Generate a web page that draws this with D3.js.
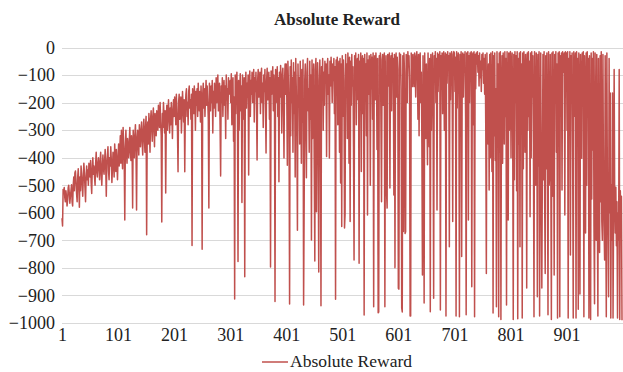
<!DOCTYPE html>
<html>
<head>
<meta charset="utf-8">
<script src="https://cdn.jsdelivr.net/npm/d3@7"></script>
<style>
  body { margin: 0; background: #fff; }
  svg { display: block; font-family: "Liberation Serif", "Times New Roman", serif; }
</style>
</head>
<body>
<div class="chart"></div>
<script>
var title = "Absolute Reward";
var seriesName = "Absolute Reward";

// episode rewards in blocks of 100 episodes
var ep1 = [-620,-648,-515,-530,-508,-545,-560,-520,-540,-575,-555,-510,-500,-530,-565,-540,-520,-498,-560,-575,
  -500,-470,-520,-455,-448,-490,-530,-560,-470,-440,-500,-580,-470,-520,-430,-460,-500,-540,-470,-420,
  -455,-510,-560,-470,-430,-480,-445,-500,-420,-455,-470,-410,-490,-530,-440,-400,-460,-430,-470,-500,
  -420,-380,-450,-470,-420,-400,-440,-480,-410,-380,-460,-500,-430,-390,-440,-460,-410,-370,-430,-540,
  -420,-390,-360,-450,-480,-400,-430,-360,-410,-490,-440,-380,-420,-470,-350,-400,-450,-370,-420,-480];
var ep2 = [-400,-350,-430,-380,-320,-420,-300,-380,-440,-290,-350,-410,-626,-360,-300,-380,-420,-330,-370,-400,
  -340,-290,-380,-410,-320,-360,-583,-300,-350,-400,-320,-280,-370,-590,-330,-300,-350,-390,-280,-320,
  -360,-300,-270,-340,-390,-300,-260,-330,-380,-290,-250,-680,-310,-270,-350,-240,-300,-380,-260,-230,
  -290,-340,-250,-220,-300,-360,-240,-280,-320,-230,-260,-300,-210,-250,-290,-200,-270,-320,-633,-240,
  -290,-200,-250,-310,-230,-528,-270,-210,-300,-240,-190,-260,-310,-220,-280,-200,-250,-330,-230,-190];
var ep3 = [-250,-180,-220,-280,-170,-230,-300,-451,-200,-170,-260,-220,-180,-310,-240,-160,-210,-270,-190,-451,
  -230,-170,-150,-250,-200,-280,-160,-140,-220,-190,-260,-170,-719,-150,-200,-240,-140,-180,-300,-160,
  -210,-150,-250,-130,-190,-230,-160,-270,-140,-200,-732,-170,-130,-220,-150,-250,-180,-120,-210,-140,
  -190,-260,-583,-130,-170,-230,-140,-200,-120,-310,-160,-220,-130,-180,-250,-110,-200,-150,-100,-230,
  -170,-130,-280,-466,-140,-200,-110,-250,-160,-120,-210,-140,-330,-100,-190,-150,-260,-110,-170,-130];
var ep4 = [-120,-200,-95,-280,-150,-110,-340,-180,-913,-100,-240,-130,-90,-210,-777,-120,-300,-160,-95,-230,
  -140,-563,-100,-190,-260,-110,-832,-150,-90,-220,-130,-180,-100,-463,-140,-85,-250,-120,-170,-90,
  -200,-130,-80,-270,-110,-160,-90,-210,-408,-120,-80,-180,-140,-90,-240,-110,-75,-200,-130,-290,
  -100,-160,-80,-220,-383,-120,-75,-190,-140,-90,-260,-110,-797,-85,-170,-120,-70,-230,-100,-150,
  -922,-80,-200,-130,-70,-250,-110,-487,-90,-180,-65,-140,-310,-100,-75,-210,-401,-120,-60,-170];
var ep5 = [-60,-180,-427,-50,-140,-260,-931,-70,-320,-45,-200,-110,-380,-55,-240,-90,-470,-40,-160,-300,
  -663,-60,-210,-110,-350,-50,-190,-420,-80,-270,-45,-935,-572,-120,-60,-300,-473,-90,-40,-230,
  -150,-380,-50,-260,-100,-699,-45,-330,-170,-60,-440,-775,-80,-40,-596,-200,-55,-360,-815,-120,
  -45,-250,-937,-70,-160,-40,-300,-90,-210,-50,-130,-60,-396,-80,-40,-170,-100,-401,-50,-140,
  -35,-90,-200,-60,-120,-40,-240,-70,-914,-45,-160,-35,-280,-80,-50,-380,-40,-492,-60,-650];
var ep6 = [-30,-250,-45,-120,-655,-605,-25,-180,-60,-330,-20,-90,-420,-35,-632,-50,-210,-25,-140,-70,
  -360,-771,-30,-100,-20,-280,-60,-40,-190,-25,-783,-50,-130,-20,-450,-70,-30,-240,-40,-971,
  -25,-110,-60,-320,-20,-608,-45,-170,-30,-80,-500,-25,-150,-35,-260,-20,-941,-60,-30,-190,
  -20,-90,-370,-40,-963,-960,-30,-120,-20,-281,-560,-45,-25,-210,-60,-20,-941,-110,-30,-528,
  -583,-25,-140,-40,-20,-510,-70,-30,-230,-20,-90,-40,-535,-25,-799,-60,-20,-180,-35,-80];
var ep7 = [-874,-877,-20,-60,-25,-150,-945,-960,-30,-668,-20,-90,-675,-669,-25,-40,-200,-15,-70,-30,
  -120,-975,-975,-20,-50,-142,-25,-80,-142,-20,-60,-180,-30,-15,-100,-260,-25,-320,-40,-20,
  -200,-90,-350,-826,-30,-280,-927,-20,-150,-330,-60,-240,-426,-20,-180,-360,-40,-959,-25,-300,
  -120,-20,-250,-910,-30,-90,-15,-200,-40,-590,-20,-160,-25,-70,-15,-953,-30,-110,-20,-240,
  -40,-15,-300,-60,-20,-975,-25,-130,-15,-80,-30,-723,-20,-190,-50,-15,-100,-632,-25,-15];
var ep8 = [-20,-160,-35,-975,-15,-220,-60,-20,-140,-977,-25,-300,-15,-759,-40,-20,-180,-25,-90,-15,
  -250,-970,-20,-60,-15,-626,-30,-200,-20,-110,-15,-868,-40,-20,-280,-15,-977,-25,-150,-20,
  -60,-15,-90,-30,-140,-20,-110,-50,-160,-25,-80,-20,-130,-40,-170,-25,-300,-820,-20,-200,
  -350,-60,-517,-25,-400,-20,-250,-450,-15,-964,-30,-320,-20,-410,-150,-941,-15,-280,-60,-977,
  -20,-380,-15,-987,-200,-30,-420,-20,-100,-350,-15,-250,-40,-935,-15,-180,-626,-20,-300,-25];
var ep9 = [-15,-400,-60,-20,-300,-987,-25,-480,-15,-200,-30,-520,-15,-985,-40,-350,-20,-723,-15,-260,
  -60,-982,-20,-440,-15,-150,-380,-25,-90,-873,-20,-300,-15,-250,-50,-614,-20,-400,-15,-180,
  -30,-350,-977,-15,-280,-500,-20,-120,-905,-25,-430,-15,-975,-460,-20,-520,-873,-410,-25,-480,
  -15,-550,-820,-30,-440,-20,-390,-970,-15,-500,-460,-25,-420,-987,-20,-540,-15,-300,-826,-25,
  -200,-15,-380,-60,-982,-20,-250,-15,-977,-30,-160,-20,-517,-15,-90,-40,-20,-608,-15,-120];
var ep10 = [-20,-300,-15,-982,-40,-200,-15,-753,-30,-150,-20,-400,-982,-15,-250,-60,-20,-982,-15,-300,
  -40,-950,-20,-180,-895,-25,-150,-402,-20,-60,-15,-977,-30,-200,-673,-20,-500,-15,-250,-40,
  -982,-30,-600,-987,-20,-550,-40,-372,-15,-650,-930,-20,-500,-700,-25,-580,-975,-40,-620,-744,
  -30,-560,-15,-632,-700,-25,-520,-650,-771,-30,-600,-977,-20,-540,-680,-905,-40,-600,-165,-982,
  -500,-700,-165,-982,-600,-80,-560,-673,-507,-720,-560,-982,-600,-700,-80,-987,-520,-650,-540,-990];

var xTicks = [1, 101, 201, 301, 401, 501, 601, 701, 801, 901];
var yTicks = [0, -100, -200, -300, -400, -500, -600, -700, -800, -900, -1000];

var rewards = [].concat(ep1, ep2, ep3, ep4, ep5, ep6, ep7, ep8, ep9, ep10);
var data = rewards.map(function (v, i) { return { ep: i + 1, v: v }; });

var width = 623, height = 372;
var color = "#C0504D";
var font = "'Liberation Serif', 'Times New Roman', serif";

var svg = d3.select(".chart").append("svg")
  .attr("width", width).attr("height", height);

var x = d3.scaleLinear().domain([1, 1000]).range([62, 622]);
var y = d3.scaleLinear().domain([-1000, 0]).range([323, 47.5]);

// gridlines
svg.append("g").selectAll("line")
  .data(yTicks)
  .enter().append("line")
  .attr("x1", 62).attr("x2", 623)
  .attr("y1", function (d) { return Math.round(y(d)) + 0.5; })
  .attr("y2", function (d) { return Math.round(y(d)) + 0.5; })
  .attr("stroke", "#d9d9d9")
  .attr("stroke-width", 1);

// y axis labels (no thousands separator)
var yAxis = d3.axisLeft(y).tickValues(yTicks).tickFormat(d3.format("d"))
  .tickSize(0).tickPadding(0);
var gy = svg.append("g").attr("transform", "translate(55,0)").call(yAxis);
gy.select(".domain").remove();
gy.selectAll("text")
  .attr("font-family", font)
  .attr("font-size", 18).attr("fill", "#222");

// x axis labels
var xAxis = d3.axisBottom(x).tickValues(xTicks).tickSize(0).tickPadding(0);
var gx = svg.append("g").attr("transform", "translate(0,328)").call(xAxis);
gx.select(".domain").remove();
gx.selectAll("text")
  .attr("font-family", font)
  .attr("font-size", 18).attr("fill", "#222");

// the series
var line = d3.line()
  .x(function (d) { return x(d.ep); })
  .y(function (d) { return y(d.v); });

svg.append("path")
  .datum(data)
  .attr("fill", "none")
  .attr("stroke", color)
  .attr("stroke-width", 1.5)
  .attr("stroke-linejoin", "round")
  .attr("d", line);

// title
svg.append("text")
  .attr("x", 337).attr("y", 25)
  .attr("text-anchor", "middle")
  .attr("font-family", font)
  .attr("font-size", 17).attr("font-weight", "bold")
  .attr("fill", "#222")
  .text(title);

// legend
svg.append("line")
  .attr("x1", 262).attr("x2", 288)
  .attr("y1", 362).attr("y2", 362)
  .attr("stroke", color).attr("stroke-width", 1.5);
svg.append("text")
  .attr("x", 290).attr("y", 367)
  .attr("font-family", font)
  .attr("font-size", 17.5).attr("fill", "#222")
  .text(seriesName);
</script>
</body>
</html>
